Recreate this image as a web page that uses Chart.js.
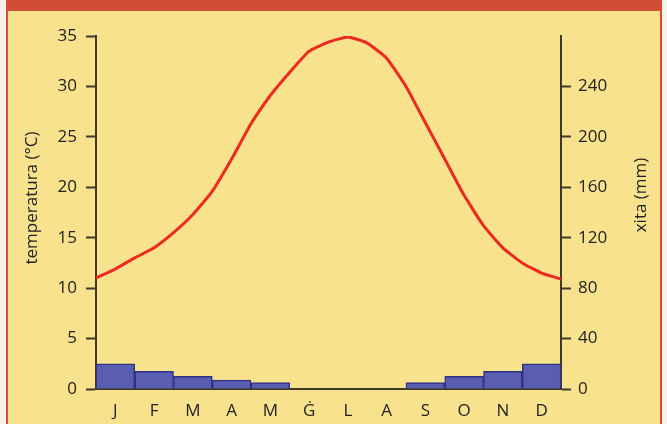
<!DOCTYPE html>
<html>
<head>
<meta charset="utf-8">
<script src="https://cdn.jsdelivr.net/npm/chart.js@4"></script>
<style>
  body { margin: 0; width: 667px; height: 424px; background: #f9efeb; position: relative; overflow: hidden; }
  #frame { position: absolute; left: 6px; top: 0; width: 656px; height: 424px; background: #d14e36; }
  #panel { position: absolute; left: 8px; top: 11px; width: 652px; height: 413px; background: #f8e28d; }
  #chart { position: absolute; left: 0; top: 0; }
</style>
</head>
<body>
<div id="frame"></div>
<div id="panel"></div>
<canvas id="chart" width="667" height="424"></canvas>
<script>
// Months (Maltese initials)
const months = ["J", "F", "M", "A", "M", "Ġ", "L", "A", "S", "O", "N", "D"];

// Rainfall per month, mm (right axis)
const rainfall = [20, 14, 10, 7, 5, 0, 0, 0, 5, 10, 14, 20];

// Temperature sampled every half month, °C (left axis)
const temperature = [
    11.0, 11.9, 13.0, 14.0, 15.5, 17.3, 19.6, 22.8, 26.3, 29.1, 31.4, 33.5,
    34.4, 34.9, 34.3, 32.8, 30.0, 26.4, 22.8, 19.2, 16.2, 14.0, 12.5, 11.5, 10.9
];

const tempTicks = { min: 0, max: 35, step: 5 };
const rainTicks = { min: 0, max: 280, step: 40 };

const axisColor = "#3d3a2c";
const textColor = "#222222";
const fontFamily = "'Open Sans'";
const tickFont = { family: fontFamily, size: 17 };

// Axis titles drawn bottom-to-top on both sides
const axisTitles = {
    id: "axisTitles",
    afterDraw(chart) {
        const ctx = chart.ctx;
        const drawTitle = (text, x, y) => {
            ctx.save();
            ctx.fillStyle = textColor;
            ctx.font = "17px " + fontFamily;
            ctx.textAlign = "center";
            ctx.textBaseline = "middle";
            ctx.translate(x, y);
            ctx.rotate(-Math.PI / 2);
            ctx.fillText(text, 0, 0);
            ctx.restore();
        };
        drawTitle("temperatura (°C)", 32, 198);
        drawTitle("xita (mm)", 641, 195);
    }
};

const ctx = document.getElementById("chart").getContext("2d");
new Chart(ctx, {
    type: "bar",
    data: {
        labels: months,
        datasets: [
            {
                type: "line",
                data: temperature.map((t, i) => ({ x: i / 2, y: t })),
                xAxisID: "xLine",
                yAxisID: "yTemp",
                borderColor: "#ec2a22",
                borderWidth: 3,
                pointRadius: 0,
                tension: 0.15,
                fill: false,
                order: 0
            },
            {
                type: "bar",
                data: rainfall,
                xAxisID: "x",
                yAxisID: "yRain",
                backgroundColor: "#5a5eb2",
                borderColor: "#2f3287",
                borderWidth: 1.5,
                borderSkipped: "bottom",
                categoryPercentage: 1,
                barPercentage: 1,
                grouped: false,
                order: 1
            }
        ]
    },
    options: {
        responsive: false,
        animation: false,
        layout: { padding: { top: 36, left: 0, right: 0, bottom: 0 } },
        plugins: { legend: { display: false }, tooltip: { enabled: false } },
        scales: {
            x: {
                type: "category",
                offset: true,
                grid: { display: false },
                border: { display: true, color: axisColor, width: 2 },
                ticks: { color: textColor, font: tickFont, padding: 4, maxRotation: 0 },
                afterFit(s) { s.height = 35; }
            },
            xLine: {
                type: "linear",
                display: false,
                offset: false,
                grid: { offset: false },
                min: 0,
                max: 12
            },
            yTemp: {
                position: "left",
                min: tempTicks.min,
                max: tempTicks.max,
                ticks: { stepSize: tempTicks.step, color: textColor, font: tickFont, padding: 9 },
                grid: { display: true, drawOnChartArea: false, drawTicks: true, tickLength: 10, tickColor: axisColor, tickWidth: 2 },
                border: { display: true, color: axisColor, width: 2 },
                afterFit(s) { s.width = 96; }
            },
            yRain: {
                position: "right",
                min: rainTicks.min,
                max: rainTicks.max,
                ticks: {
                    stepSize: rainTicks.step, color: textColor, font: tickFont, padding: 7,
                    callback: v => (v === rainTicks.max ? "" : v)
                },
                grid: {
                    display: true, drawOnChartArea: false, drawTicks: true, tickLength: 10, tickWidth: 2,
                    tickColor: c => (c.tick && c.tick.value === rainTicks.max ? "rgba(0,0,0,0)" : axisColor)
                },
                border: { display: true, color: axisColor, width: 2 },
                afterFit(s) { s.width = 106; }
            }
        }
    },
    plugins: [axisTitles]
});
</script>
</body>
</html>
